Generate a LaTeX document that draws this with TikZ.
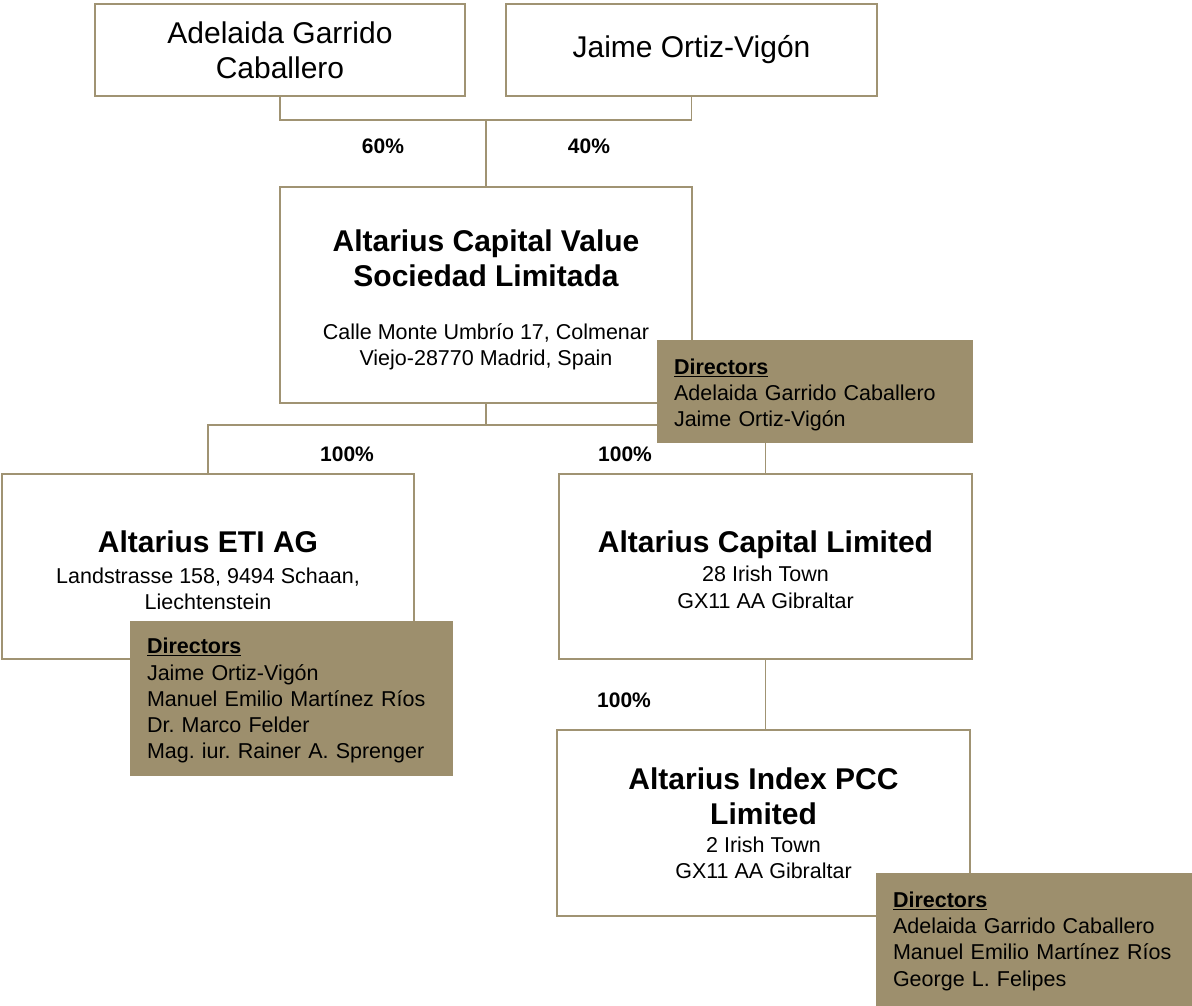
\documentclass[tikz,border=0pt]{standalone}
\usepackage{fontspec}
\setmainfont{Liberation Sans}
\frenchspacing
\definecolor{gold}{HTML}{9D8F6D}
\definecolor{goldline}{HTML}{A09373}
\newcommand{\bigf}{\fontsize{30}{35}\selectfont\bfseries\spaceskip=0pt\xspaceskip=0pt\relax}
\newcommand{\namef}{\fontsize{30}{35}\selectfont\spaceskip=0pt\xspaceskip=0pt\relax}
\newcommand{\smf}{\fontsize{21.5}{26.2}\selectfont\frenchspacing\spaceskip=0pt\xspaceskip=0pt\relax}
\newcommand{\lift}[1]{\rule{0pt}{#1}}
\begin{document}
\begin{tikzpicture}[x=1pt,y=-1pt,
  box/.style 2 args={draw=goldline, line width=1.8pt, fill=white, inner ysep=0pt, inner xsep=10pt,
    text width=#1-20pt, minimum height=#2, font=\smf},
  dirbox/.style 2 args={fill=gold, inner xsep=17pt, inner ysep=0pt, text width=#1-34pt,
    minimum height=#2, font=\smf},
  conn/.style={draw=goldline, line width=1.8pt},
  pct/.style={font=\fontsize{21}{25}\selectfont\bfseries, inner sep=0pt}]
\useasboundingbox (0,0) rectangle (1192,1006);
\fill[white] (0,0) rectangle (1192,1006);

% owners
\node[box={370pt}{92pt}, font=\namef] (adel) at (280,50) {\centering\namef Adelaida Garrido\\ Caballero\par};
\node[box={371pt}{92pt}, font=\namef] (jaime) at (691.5,50) {\centering\namef Jaime Ortiz-Vigón\par};

% companies
\node[box={412pt}{216pt}] (acv) at (486,295)
  {\centering{\bigf\lift{32pt}Altarius Capital Value\\ Sociedad Limitada\par}\vspace{27pt}%
   {\smf Calle Monte Umbrío 17, Colmenar\\ Viejo-28770 Madrid, Spain\par}};
\node[box={412pt}{185pt}] (eti) at (208,566.5)
  {\centering{\bigf\lift{29pt}Altarius ETI AG\par}\vspace{5pt}%
   {\smf Landstrasse 158, 9494 Schaan,\\ Liechtenstein\par}};
\node[box={413pt}{185pt}] (acl) at (765.5,566.5)
  {\centering{\bigf\lift{28pt}Altarius Capital Limited\par}\vspace{3pt}%
   {\smf 28 Irish Town\\ GX11 AA Gibraltar\par}};
\node[box={413pt}{186pt}] (idx) at (763.5,823)
  {\centering{\bigf Altarius Index PCC\\ Limited\par}\vspace{2pt}%
   {\smf 2 Irish Town\\ GX11 AA Gibraltar\par}};

% connectors
\coordinate (top) at (486,120);
\coordinate (mid) at (486,425);
\draw[conn] (adel.south) |- (top) -| (jaime.south);
\draw[conn] (top) -- (acv.north);
\draw[conn] (acv.south) -- (mid);
\draw[conn] (eti.north) |- (mid) -| (acl.north);
\draw[conn] (acl.south) -- (acl.south |- idx.north);

% percentages
\node[pct] (p60) at (383,146) {60\%};
\node[pct] (p40) at (589,146) {40\%};
\node[pct] (p1) at (347,454) {100\%};
\node[pct] (p2) at (625,454) {100\%};
\node[pct] (p3) at (624,700) {100\%};

% directors
\node[dirbox={316pt}{103pt}] (d1) at (815,391.5)
  {\raggedright\lift{22.5pt}\underline{\textbf{Directors}}\\ Adelaida Garrido Caballero\\ Jaime Ortiz-Vigón\par};
\node[dirbox={323pt}{155pt}] (d2) at (291.5,698.5)
  {\raggedright\lift{20pt}\underline{\textbf{Directors}}\\ Jaime Ortiz-Vigón\\ Manuel Emilio Martínez Ríos\\ Dr. Marco Felder\\ Mag. iur. Rainer A. Sprenger\par};
\node[dirbox={316pt}{134pt}] (d3) at (1034,939.5)
  {\raggedright\lift{19pt}\underline{\textbf{Directors}}\\ Adelaida Garrido Caballero\\ Manuel Emilio Martínez Ríos\\ George L. Felipes\par};
\end{tikzpicture}
\end{document}
